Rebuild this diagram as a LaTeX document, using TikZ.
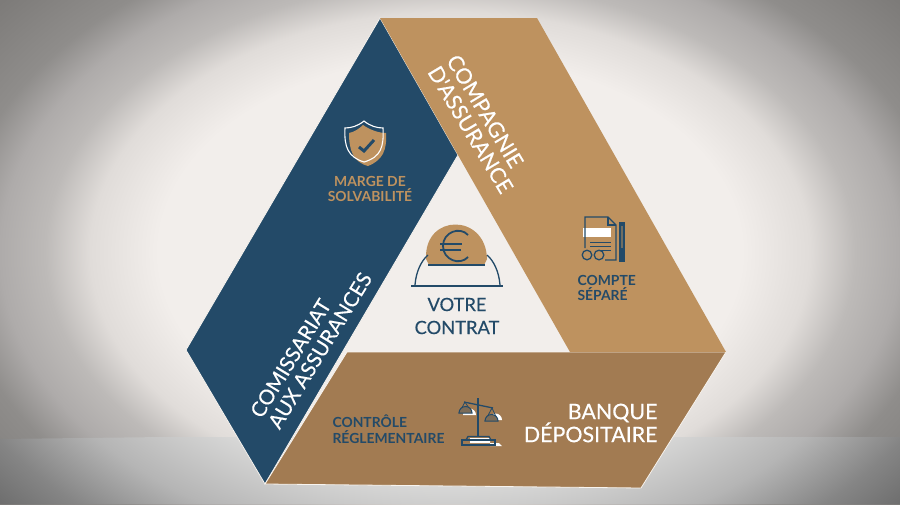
\documentclass[tikz,border=0pt]{standalone}
\usepackage{fontspec}
\setmainfont{Lato}
\newfontfamily\medfont[FakeBold=0.35]{Lato}
\usetikzlibrary{positioning}
\definecolor{navy}{HTML}{234A68}
\definecolor{tanup}{HTML}{BE925F}
\definecolor{tanlow}{HTML}{A27B52}
\definecolor{paper}{HTML}{F2EEEB}
\definecolor{wallA}{HTML}{E0DCD9}
\definecolor{wallB}{HTML}{BDBAB8}
\definecolor{wallC}{HTML}{AEABAA}
\definecolor{wallD}{HTML}{8F8D8B}
\definecolor{wallE}{HTML}{7D7B79}
\definecolor{floorA}{HTML}{E4E4E3}
\definecolor{floorB}{HTML}{B5B5B5}
\definecolor{floorC}{HTML}{858585}
\definecolor{floorD}{HTML}{6F6F6F}
\pgfdeclareradialshading{wallshade}{\pgfpoint{0bp}{0bp}}{
  color(0bp)=(paper); color(16.2bp)=(paper); color(20bp)=(wallA); color(22.5bp)=(wallB);
  color(25bp)=(wallC); color(27.5bp)=(wallD); color(32.5bp)=(wallE); color(100bp)=(wallE)}
\pgfdeclareradialshading{floorshade}{\pgfpoint{0bp}{0bp}}{
  color(0bp)=(floorA); color(17.5bp)=(floorA); color(25bp)=(floorB);
  color(29.5bp)=(floorC); color(32.5bp)=(floorD); color(100bp)=(floorD)}
\tikzset{
  biglabel/.style={text=white,font=\medfont\fontsize{21.4}{23}\selectfont,align=left},
  smalllabel/.style={text=navy,font=\fontsize{13.9}{15.5}\selectfont\bfseries,align=center},
  icon/.style={navy,line width=1.3pt},
  band/.style={draw=white!90!tanup,line width=.8pt,line join=miter}
}
\begin{document}
\begin{tikzpicture}[x=1pt,y=-1pt]
  \useasboundingbox (0,0) rectangle (900,504);
  \begin{scope}
    \clip (0,0) rectangle (900,504);
    \shade[shading=wallshade] (0,-48) rectangle (900,552);
    \clip (0,439) -- (165,437) -- (900,437) -- (900,504) -- (0,504) -- cycle;
    \shade[shading=floorshade] (0,-48) rectangle (900,552);
  \end{scope}

  % the three bands
  \fill[paper] (457,155) -- (570,352) -- (347,352) -- cycle;
  \draw[band,fill=navy] (380,18) -- (458,155) -- (265,484) -- (186,350) -- cycle;
  \draw[band,fill=tanlow] (347,352) -- (726,352) -- (641,488) -- (265,484) -- cycle;
  \fill[tanup] (380,18) -- (537,18) -- (726,352) -- (570,352) -- cycle;

  \node[biglabel,rotate=-59] (compagnie) at (480,124) {COMPAGNIE\\[-1pt]D'ASSURANCE};
  \node[biglabel,rotate=58.5,font=\medfont\fontsize{20.6}{22}\selectfont] (comissariat) at (311,345) {COMISSARIAT\\[-1pt]AUX ASSURANCES};
  \node[biglabel,align=right,anchor=east] (banque) at (661,423) {BANQUE\\[0pt]DÉPOSITAIRE};

  \node[smalllabel,text=tanup] (marge) at (370,189) {MARGE DE\\SOLVABILITÉ};
  \node[smalllabel,align=left,anchor=west] (compte) at (574,288) {COMPTE\\SÉPARÉ};
  \node[smalllabel,align=left,anchor=west] (controle) at (329,429) {CONTRÔLE\\RÉGLEMENTAIRE};
  \node[smalllabel,font=\medfont\fontsize{18.3}{23}\selectfont] (contrat) at (457,316) {VOTRE\\CONTRAT};

  % shield
  \fill[tanup] (363,125) .. controls (370,130) and (379,133) .. (386,133) .. controls (387,150) and (383,160) .. (368,166) .. controls (353,162) and (349,150) .. (349,133) .. controls (354,132) and (359,129) .. (363,125) -- cycle;
  \draw[white,line width=1.1pt] (364,121) .. controls (370,126) and (377,128) .. (383,128) .. controls (384,147) and (381,157) .. (364,162) .. controls (348,157) and (344,147) .. (345,128) .. controls (351,128) and (358,126) .. (364,121) -- cycle;
  \draw[navy,line width=3pt] (359,147) -- (364,151) -- (374,140);

  % coin and slot
  \fill[tanup] (426,259) .. controls (424,213) and (486,213) .. (487,259) -- (484,265) -- (429,265) -- cycle;
  \draw[icon,line width=1.8pt] (468,235) .. controls (460,226) and (443,232) .. (443,246) .. controls (443,260) and (460,266) .. (468,257);
  \draw[icon,line width=1.5pt] (440,244) -- (462,244) (440,250) -- (461,250);
  \draw[icon,line width=1.7pt] (428,265) -- (485,265);
  \draw[icon,line width=1.7pt] (411,286) -- (503,286);
  \draw[icon] (415,285) .. controls (416,272) and (421,261) .. (428,255);
  \draw[icon] (500,285) .. controls (499,272) and (494,261) .. (487,255);

  % document with glasses and pen
  \fill[white] (583,228) rectangle (611,237);
  \draw[icon] (585,248) -- (585,217) -- (608,217) -- (616,225) -- (616,260) -- (605,260);
  \draw[icon] (608,217) -- (608,225) -- (616,225);
  \draw[icon,line width=1pt] (590,242) -- (611,242) (590,246) -- (611,246) (597,250) -- (611,250);
  \draw[icon] (587,255) circle (4.8) (599,255) circle (4.8);
  \fill[navy] (619,222) rectangle (625,262);
  \fill[navy!50!tanup] (621,226) rectangle (623,248);

  % scales
  \fill[white] (463,415) arc[start angle=180,end angle=360,radius=6.5] -- cycle;
  \fill[white] (489,420) arc[start angle=180,end angle=360,radius=6.5] -- cycle;
  \fill[white] (470,438) rectangle (490,443) (490,443) -- (499,443) -- (502,446) -- (490,446) -- cycle;
  \draw[icon] (478,398) -- (478,437);
  \draw[icon] (464,402) -- (493,408);
  \draw[icon,line width=.8pt] (465,402) -- (459,413) (465,402) -- (472,413) (492,408) -- (485,421) (492,408) -- (498,421);
  \fill[navy!30!tanlow] (459,413) arc[start angle=180,end angle=360,radius=6.5] -- cycle;
  \fill[navy!30!tanlow] (485,421) arc[start angle=180,end angle=360,radius=6.5] -- cycle;
  \draw[icon,line width=1pt] (459,413) -- (472,413) arc[start angle=0,end angle=-180,radius=6.5] -- cycle;
  \draw[icon,line width=1pt] (485,421) -- (498,421) arc[start angle=0,end angle=-180,radius=6.5] -- cycle;
  \draw[icon] (466,440) -- (468,436.5) -- (489,436.5) -- (491,440);
  \draw[icon] (462,440) rectangle (495,445);
\end{tikzpicture}
\end{document}
